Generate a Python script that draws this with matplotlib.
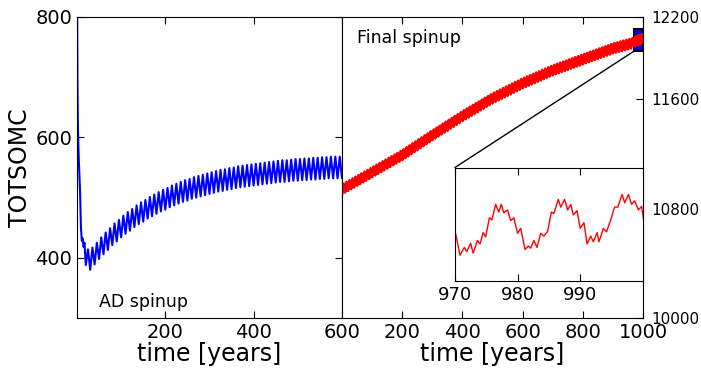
import numpy as np
import matplotlib
matplotlib.use("Agg")
import matplotlib.pyplot as plt
from matplotlib.patches import Rectangle, ConnectionPatch

plt.rc('font', family='DejaVu Sans')
plt.rc('xtick', direction='in', top=True)
plt.rc('ytick', direction='in', right=True)
plt.rc('xtick.major', size=5, width=0.8)
plt.rc('ytick.major', size=5, width=0.8)

# AD spinup (left panel)
ad_years_start = [0, 1, 2, 4, 7, 9, 11, 13, 15, 17]
ad_totsomc_start = [900, 700, 620, 565, 510, 450, 428, 432, 418, 425]
ad_years = np.arange(20, 601, 5)
ad_totsomc = [388, 414, 380, 417,
              389, 425, 398, 434, 406, 442, 413, 449, 421, 457, 427, 463,
              434, 470, 440, 476, 445, 481, 451, 487, 456, 492, 460, 496, 465, 501, 469, 505, 473, 509, 477, 513,
              480, 516, 484, 520, 487, 523, 490, 526, 493, 529, 495, 531, 498, 534, 500, 536, 502, 538, 504, 540,
              506, 542, 508, 544, 510, 546, 511, 547, 513, 549, 514, 550, 516, 552, 517, 553, 518, 554, 519, 555,
              520, 556, 521, 557, 522, 558, 523, 559, 524, 560, 525, 561, 526, 562, 526, 562, 527, 563, 528, 564,
              528, 564, 529, 565, 529, 565, 530, 566, 530, 566, 531, 567, 531, 567, 532, 568, 532, 568, 532, 568,
              533]

# Final spinup (right panel), coarse part
final_years = np.arange(0, 970, 5)
final_totsomc = [10905, 10981, 10918, 10994, 10930, 11006, 10943, 11019, 10955, 11031, 10968, 11044, 10980, 11056, 10993, 11069, 11005, 11081, 11018, 11094,
                 11030, 11106, 11043, 11119, 11055, 11131, 11068, 11144, 11080, 11156, 11093, 11169, 11105, 11181, 11118, 11194, 11130, 11206, 11143, 11219,
                 11155, 11232, 11170, 11247, 11184, 11261, 11199, 11276, 11213, 11290, 11228, 11305, 11242, 11319, 11257, 11334, 11271, 11348, 11286, 11363,
                 11300, 11377, 11314, 11391, 11328, 11405, 11342, 11419, 11356, 11433, 11370, 11447, 11384, 11461, 11398, 11475, 11412, 11489, 11426, 11503,
                 11440, 11517, 11453, 11530, 11466, 11543, 11479, 11556, 11492, 11569, 11505, 11582, 11518, 11595, 11531, 11608, 11544, 11621, 11557, 11634,
                 11570, 11646, 11581, 11657, 11592, 11668, 11603, 11679, 11614, 11690, 11625, 11701, 11636, 11712, 11647, 11723, 11658, 11734, 11669, 11745,
                 11680, 11755, 11690, 11764, 11699, 11774, 11709, 11783, 11718, 11793, 11728, 11802, 11737, 11812, 11747, 11821, 11756, 11831, 11766, 11840,
                 11775, 11849, 11783, 11857, 11791, 11865, 11799, 11873, 11807, 11881, 11815, 11889, 11823, 11897, 11831, 11905, 11839, 11913, 11847, 11921,
                 11855, 11929, 11863, 11937, 11871, 11945, 11879, 11953, 11887, 11961, 11895, 11969, 11903, 11977, 11911, 11985, 11919, 11993, 11927, 12001,
                 11935, 12008, 11941, 12014, 11947, 12020, 11953, 12026, 11959, 12032, 11965, 12038, 11971, 12044]

# last 30 years, finer (shown in the inset)
last_years = [970.1, 970.8, 971.5, 971.9, 972.5, 972.9, 973.6, 974.0, 974.5, 974.9,
              975.5, 975.9, 976.5, 977.0, 977.4, 977.8, 978.4, 978.9, 979.4, 980.0,
              980.5, 981.2, 981.7, 982.1, 982.6, 983.1, 983.7, 984.2, 984.8, 985.4,
              985.8, 986.5, 986.9, 987.5, 988.0, 988.5, 988.9, 989.5, 990.0, 990.6,
              991.1, 991.7, 992.1, 992.7, 993.0, 993.7, 994.2, 994.8, 995.5, 996.0,
              996.7, 997.1, 997.7, 998.2, 998.7, 999.3, 999.8, 1000.2]
last_totsomc = [12017, 11986, 11997, 11991, 12003, 11989, 12007, 12002, 12018, 12012,
                12039, 12036, 12058, 12047, 12058, 12046, 12050, 12035, 12039, 12017,
                12024, 11994, 11999, 11996, 12007, 11997, 12017, 12013, 12020, 12047,
                12045, 12065, 12054, 12065, 12050, 12058, 12043, 12049, 12024, 12032,
                12002, 12013, 12005, 12018, 12005, 12024, 12019, 12034, 12054, 12054,
                12072, 12060, 12072, 12058, 12063, 12050, 12055, 12032]

zoom_x = (970, 1000)
zoom_y = (11950, 12110)

fig = plt.figure(figsize=(7.01, 3.68), dpi=100)

ax1 = fig.add_axes([0.1098, 0.1359, 0.378, 0.818])
ax1.plot(list(ad_years_start) + list(ad_years), ad_totsomc_start + ad_totsomc,
         color='blue', lw=1.5)
ax1.set_xlim(0, 600)
ax1.set_ylim(300, 800)
ax1.set_xticks([200, 400, 600])
ax1.set_yticks([400, 600, 800])
ax1.tick_params(labelsize=14)
ax1.set_xlabel("time [years]", fontsize=17, labelpad=0)
ax1.set_ylabel("TOTSOMC", fontsize=17, labelpad=2)
ax1.text(0.083, 0.053, "AD spinup", transform=ax1.transAxes, fontsize=12.5,
         va='center')

ax2 = fig.add_axes([0.4879, 0.1359, 0.4294, 0.818])
years2 = list(final_years) + last_years
vals2 = final_totsomc + last_totsomc
ax2.plot(years2, vals2, color='red', lw=2)
ax2.set_xlim(0, 1000)
ax2.set_ylim(10000, 12200)
ax2.set_xticks([200, 400, 600, 800, 1000])
ax2.set_yticks([10000, 10800, 11600, 12200])
ax2.yaxis.tick_right()
ax2.tick_params(axis='y', left=False, right=True, labelsize=11, pad=6)
ax2.tick_params(axis='x', labelsize=14)
ax2.set_xlabel("time [years]", fontsize=17, labelpad=0)
ax2.text(0.051, 0.93, "Final spinup", transform=ax2.transAxes, fontsize=12.5,
         va='center')

ax2.add_patch(Rectangle((zoom_x[0], zoom_y[0]), zoom_x[1] - zoom_x[0],
                        zoom_y[1] - zoom_y[0], facecolor='blue',
                        edgecolor='black', lw=1.5, zorder=1))

axins = fig.add_axes([0.649, 0.2372, 0.268, 0.3076])
axins.plot(years2, vals2, color='red', lw=1)
axins.set_xlim(*zoom_x)
axins.set_ylim(*zoom_y)
axins.set_xticks([970, 980, 990])
axins.set_yticks([])
axins.tick_params(labelsize=13)

con = ConnectionPatch(xyA=(zoom_x[0], zoom_y[0]), coordsA=ax2.transData,
                      xyB=(0, 1), coordsB=axins.transAxes, color='black', lw=1)
fig.add_artist(con)

fig.savefig("out.png", dpi=100)
